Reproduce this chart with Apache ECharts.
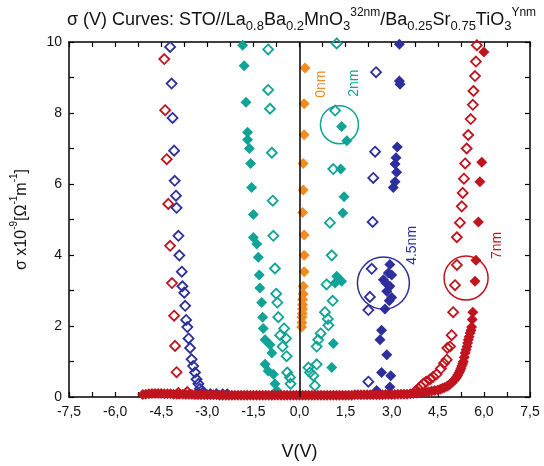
<!DOCTYPE html>
<html>
<head>
<meta charset="utf-8">
<script src="https://cdn.jsdelivr.net/npm/echarts@6/dist/echarts.min.js"></script>
<style>
  html, body { margin: 0; padding: 0; background: #fff; }
  #chart { width: 544px; height: 466px; }
</style>
</head>
<body>
<div id="chart"></div>
<script>
// data: [V, sigma]
const redOpen = [
  [-4.40, 9.52], [-4.37, 8.08], [-4.32, 6.70], [-4.27, 5.44], [-4.21, 4.26], [-4.15, 3.21],
  [-4.08, 2.29], [-4.05, 1.44], [-4.00, 0.70], [-3.94, 0.11], [-3.65, 0.14],
  [3.80, 0.18], [3.87, 0.23], [3.95, 0.30], [4.03, 0.37], [4.12, 0.43], [4.25, 0.50], [4.35, 0.57],
  [4.46, 0.64], [4.60, 0.80], [4.70, 0.95], [4.79, 1.05], [4.81, 1.38], [4.90, 1.42], [4.95, 1.74],
  [5.00, 2.39], [5.06, 3.15], [5.12, 3.72], [5.12, 4.50], [5.22, 4.91], [5.28, 5.37], [5.31, 5.75],
  [5.35, 6.15], [5.39, 6.58], [5.44, 7.00], [5.49, 7.38], [5.57, 7.83], [5.64, 8.23], [5.66, 8.62],
  [5.71, 9.04], [5.74, 9.45], [5.77, 9.91]
]
const redFilled = [
  [-5.1, 0.07], [-5.0, 0.08], [-4.9, 0.09], [-4.8, 0.10], [-4.7, 0.10], [-4.6, 0.10], [-4.5, 0.10],
  [-4.4, 0.09], [-4.3, 0.09], [-4.2, 0.09], [-4.1, 0.08], [-4.0, 0.08], [-3.9, 0.08], [-3.8, 0.08],
  [-3.7, 0.07], [-3.6, 0.07], [-3.5, 0.07], [-3.4, 0.06], [-3.3, 0.06], [-3.2, 0.06], [-3.1, 0.06],
  [-3.0, 0.06], [-2.9, 0.06], [-2.8, 0.06], [-2.7, 0.06], [-2.6, 0.05], [-2.5, 0.05], [-2.4, 0.05],
  [-2.3, 0.05], [-2.2, 0.05], [-2.1, 0.05], [-2.0, 0.05], [-1.9, 0.05], [-1.8, 0.05], [-1.7, 0.05],
  [-1.6, 0.05], [-1.5, 0.05], [-1.4, 0.05], [-1.3, 0.05], [-1.2, 0.05], [-1.1, 0.05], [-1.0, 0.05],
  [-0.9, 0.05], [-0.8, 0.05], [-0.7, 0.05], [-0.6, 0.05], [-0.5, 0.05], [-0.4, 0.05], [-0.3, 0.05],
  [-0.2, 0.05], [-0.1, 0.05], [0.0, 0.05], [0.1, 0.05], [0.2, 0.05], [0.3, 0.05], [0.4, 0.05],
  [0.5, 0.05], [0.6, 0.05], [0.7, 0.05], [0.8, 0.05], [0.9, 0.05], [1.0, 0.05], [1.1, 0.05],
  [1.2, 0.05], [1.3, 0.05], [1.4, 0.05], [1.5, 0.05], [1.6, 0.05], [1.7, 0.05], [1.8, 0.06],
  [1.9, 0.06], [2.0, 0.06], [2.1, 0.06], [2.2, 0.06], [2.3, 0.06], [2.4, 0.06], [2.5, 0.06],
  [2.6, 0.06], [2.7, 0.06], [2.8, 0.07], [2.9, 0.07], [3.0, 0.07], [3.1, 0.07], [3.2, 0.08],
  [3.3, 0.08], [3.4, 0.08], [3.5, 0.08], [3.6, 0.09], [3.7, 0.10], [3.8, 0.11], [3.9, 0.12],
  [4.0, 0.13], [4.1, 0.14], [4.2, 0.15], [4.3, 0.17], [4.4, 0.18], [4.5, 0.20], [4.58, 0.22],
  [4.65, 0.25], [4.72, 0.27], [4.8, 0.30], [4.85, 0.33], [4.9, 0.36], [4.95, 0.40], [5.0, 0.45],
  [5.04, 0.48], [5.08, 0.52], [5.12, 0.57], [5.15, 0.62], [5.19, 0.68], [5.22, 0.74], [5.25, 0.80],
  [5.28, 0.87], [5.31, 0.94], [5.33, 1.00], [5.36, 1.12], [5.39, 1.24], [5.42, 1.33], [5.45, 1.42],
  [5.47, 1.52], [5.49, 1.61], [5.52, 1.70], [5.55, 1.80], [5.58, 1.88], [5.60, 1.97], [5.62, 2.18],
  [5.64, 2.39], [5.71, 3.26], [5.74, 3.85], [5.82, 4.93], [5.87, 6.06], [5.93, 6.61], [6.00, 9.72]
]
const blueOpen = [
  [-4.21, 9.86], [-4.16, 8.83], [-4.13, 7.86], [-4.08, 6.94], [-4.06, 6.09], [-4.02, 5.67],
  [-4.00, 5.33], [-3.94, 4.54], [-3.91, 3.99], [-3.83, 3.53], [-3.81, 3.12], [-3.75, 2.94],
  [-3.72, 2.57], [-3.69, 2.17], [-3.65, 1.97], [-3.61, 1.65], [-3.56, 1.38], [-3.51, 1.06],
  [-3.46, 0.87], [-3.40, 0.69], [-3.35, 0.50], [-3.29, 0.37], [-3.24, 0.23], [-3.13, 0.14],
  [2.49, 9.15], [2.46, 6.91], [2.40, 6.17], [2.38, 4.93], [2.35, 3.61], [2.29, 2.82], [2.24, 2.45],
  [2.24, 0.43]
]
const blueFilled = [
  [-3.3, 0.12], [-3.1, 0.12], [-2.9, 0.10], [-2.7, 0.10], [-2.5, 0.09], [-2.35, 0.09],
  [3.25, 9.94], [3.25, 8.90], [3.27, 8.81], [3.18, 7.04], [3.14, 6.74], [3.11, 6.56], [3.16, 6.33],
  [3.11, 6.06], [3.05, 5.90], [2.94, 3.73], [2.89, 3.49], [3.00, 3.44], [2.73, 3.30], [2.81, 3.21],
  [2.94, 3.12], [2.84, 2.98], [3.00, 2.80], [2.92, 2.71], [2.78, 2.48], [2.67, 1.88], [2.62, 1.61],
  [2.84, 1.19], [2.67, 0.69], [2.97, 0.60], [2.94, 0.28], [2.51, 0.18]
]
const tealOpen = [
  [-1.02, 9.79], [-1.02, 8.65], [-0.96, 8.12], [-0.90, 6.88], [-0.87, 5.53], [-0.85, 4.54],
  [-0.80, 3.62], [-0.76, 2.91], [-0.72, 2.66], [-0.69, 2.25], [-0.50, 1.93], [-0.63, 1.74],
  [-0.44, 1.65], [-0.55, 1.42], [-0.42, 1.15], [-0.40, 0.69], [-0.31, 0.55], [-0.29, 0.37],
  [1.21, 9.96], [1.16, 8.07], [1.10, 6.42], [0.99, 4.91], [1.05, 3.99], [0.88, 3.17], [1.08, 2.71],
  [0.83, 2.39], [0.92, 2.20], [0.94, 2.02], [0.69, 1.79], [0.61, 1.61], [0.56, 1.42], [0.56, 0.92],
  [0.29, 0.83], [0.34, 0.69], [0.45, 0.60], [0.50, 0.32]
]
const tealFilled = [
  [-1.85, 9.91], [-1.80, 9.33], [-1.74, 8.30], [-1.69, 7.46], [-1.69, 7.25], [-1.63, 7.00],
  [-1.59, 6.58], [-1.56, 5.90], [-1.50, 5.14], [-1.50, 4.49], [-1.39, 4.31], [-1.34, 3.94],
  [-1.31, 3.44], [-1.29, 3.07], [-1.23, 2.66], [-1.20, 2.25], [-1.18, 1.93], [-1.12, 1.61],
  [-0.96, 1.47], [-0.90, 1.24], [-1.12, 0.92], [-1.02, 0.73], [-0.85, 0.64], [-0.80, 0.37],
  [-0.74, 0.18],
  [1.37, 7.62], [1.54, 7.22], [1.34, 6.42], [1.45, 5.64], [1.41, 5.18], [1.21, 3.40], [1.37, 3.26],
  [1.16, 3.21], [1.10, 1.51], [1.05, 0.83]
]
const orangeFilled = [
  [0.18, 9.27], [0.15, 8.26], [0.15, 7.39], [0.12, 6.58], [0.12, 5.83], [0.10, 5.20], [0.15, 4.56],
  [0.15, 3.99], [0.15, 3.53], [0.12, 3.12], [0.12, 2.90], [0.10, 2.75], [0.10, 2.60], [0.10, 2.48],
  [0.09, 2.35], [0.08, 2.25], [0.08, 2.10], [0.07, 1.97]
]
// annotation circles and labels: [V, sigma, size or text, colour]
const circles = [[1.30, 7.67, 38, '#10a396'], [2.73, 3.21, 52, '#2d2f9c'], [5.42, 3.35, 44, '#c0141e']]
const tags = [[0.69, 8.81, '0nm', '#f58a1f'], [1.77, 8.84, '2nm', '#10a396'],
  [3.65, 4.27, '4.5nm', '#2d2f9c'], [6.42, 4.27, '7nm', '#c0141e']]

const RED = '#c0141e', BLUE = '#2d2f9c', TEAL = '#10a396', ORANGE = '#f58a1f'
const FONT = 'Liberation Sans'

const openSeries = (data, color) => ({
  type: 'scatter', data, symbol: 'diamond', symbolSize: 10,
  itemStyle: { color: 'rgba(255,255,255,0)', borderColor: color, borderWidth: 1.8, opacity: 1 },
  emphasis: { disabled: true }, z: 3
})
const filledSeries = (data, color) => ({
  type: 'scatter', data, symbol: 'diamond', symbolSize: 11,
  itemStyle: { color, opacity: 1 }, emphasis: { disabled: true }, z: 3
})

// rich styles for sub/superscripts
const richText = (size, small) => ({
  n: { fontFamily: FONT, fontSize: size, fontWeight: 'normal', color: '#111', verticalAlign: 'middle', lineHeight: 26 },
  sub: { fontFamily: FONT, fontSize: small, fontWeight: 'normal', color: '#111', verticalAlign: 'bottom', lineHeight: 13 },
  sup: { fontFamily: FONT, fontSize: small - 1, fontWeight: 'normal', color: '#111', verticalAlign: 'top', lineHeight: 12 }
})

const chart = echarts.init(document.getElementById('chart'))

const axisCommon = {
  axisLine: { onZero: false, lineStyle: { color: '#000', width: 1.5 } },
  axisTick: { inside: true, length: 5, lineStyle: { color: '#000', width: 1.2 } },
  splitLine: { show: false }
}

chart.setOption({
  animation: false,
  title: {
    text: '{n|σ (V) Curves: STO//La}{sub|0.8}{n|Ba}{sub|0.2}{n|MnO}{sub|3}{sup|32nm}{n|/Ba}{sub|0.25}{n|Sr}{sub|0.75}{n|TiO}{sub|3}{sup|Ynm}',
    left: 62, top: 2,
    textStyle: { fontWeight: 'normal', rich: richText(18, 13) }
  },
  grid: { left: 69, right: 14, top: 42, bottom: 61 },
  xAxis: [
    {
      ...axisCommon, type: 'value', min: -7.5, max: 7.5, interval: 0.75, position: 'bottom',
      name: 'V(V)', nameLocation: 'middle', nameGap: 46,
      nameTextStyle: { fontFamily: FONT, fontSize: 18, color: '#111' },
      axisLabel: {
        margin: 8, fontFamily: FONT, fontSize: 14, color: '#111',
        formatter: v => Math.abs(Math.round(v / 0.75)) % 2 === 0 ? v.toFixed(1).replace('.', ',') : ''
      }
    },
    {
      ...axisCommon, type: 'value', min: -7.5, max: 7.5, interval: 0.75, position: 'top',
      axisLabel: { show: false }
    }
  ],
  yAxis: [
    {
      ...axisCommon, type: 'value', min: 0, max: 10, interval: 1, position: 'left',
      name: '{n|σ x10}{sup|-9}{n|[Ω}{sup|-1}{n|m}{sup|-1}{n|]}', nameLocation: 'middle', nameGap: 34,
      nameTextStyle: { rich: richText(16, 11) },
      axisLabel: {
        margin: 7, fontFamily: FONT, fontSize: 14, color: '#111',
        formatter: v => Math.round(v) % 2 === 0 ? String(Math.round(v)) : ''
      }
    },
    {
      ...axisCommon, type: 'value', min: 0, max: 10, interval: 1, position: 'right',
      axisLabel: { show: false }
    }
  ],
  series: [
    openSeries(blueOpen, BLUE),
    filledSeries(blueFilled, BLUE),
    openSeries(tealOpen, TEAL),
    filledSeries(tealFilled, TEAL),
    filledSeries(orangeFilled, ORANGE),
    openSeries(redOpen, RED),
    {
      ...filledSeries(redFilled, RED),
      markLine: {
        silent: true, symbol: 'none', label: { show: false },
        lineStyle: { color: '#000', width: 1.5, type: 'solid' },
        data: [{ xAxis: 0 }]
      }
    },
    {
      type: 'scatter', symbol: 'circle', silent: true, z: 4,
      data: circles.map(c => ({ value: [c[0], c[1]], symbolSize: c[2],
        itemStyle: { color: 'rgba(255,255,255,0)', borderColor: c[3], borderWidth: 1.5, opacity: 1 } }))
    },
    {
      type: 'scatter', symbolSize: 1, silent: true, z: 5,
      itemStyle: { color: 'rgba(255,255,255,0)', opacity: 1 },
      data: tags.map(t => ({ value: [t[0], t[1]],
        label: { show: true, position: 'inside', rotate: 90, formatter: t[2],
          fontFamily: FONT, fontSize: 14, color: t[3], opacity: 1 } }))
    }
  ]
})
</script>
</body>
</html>
